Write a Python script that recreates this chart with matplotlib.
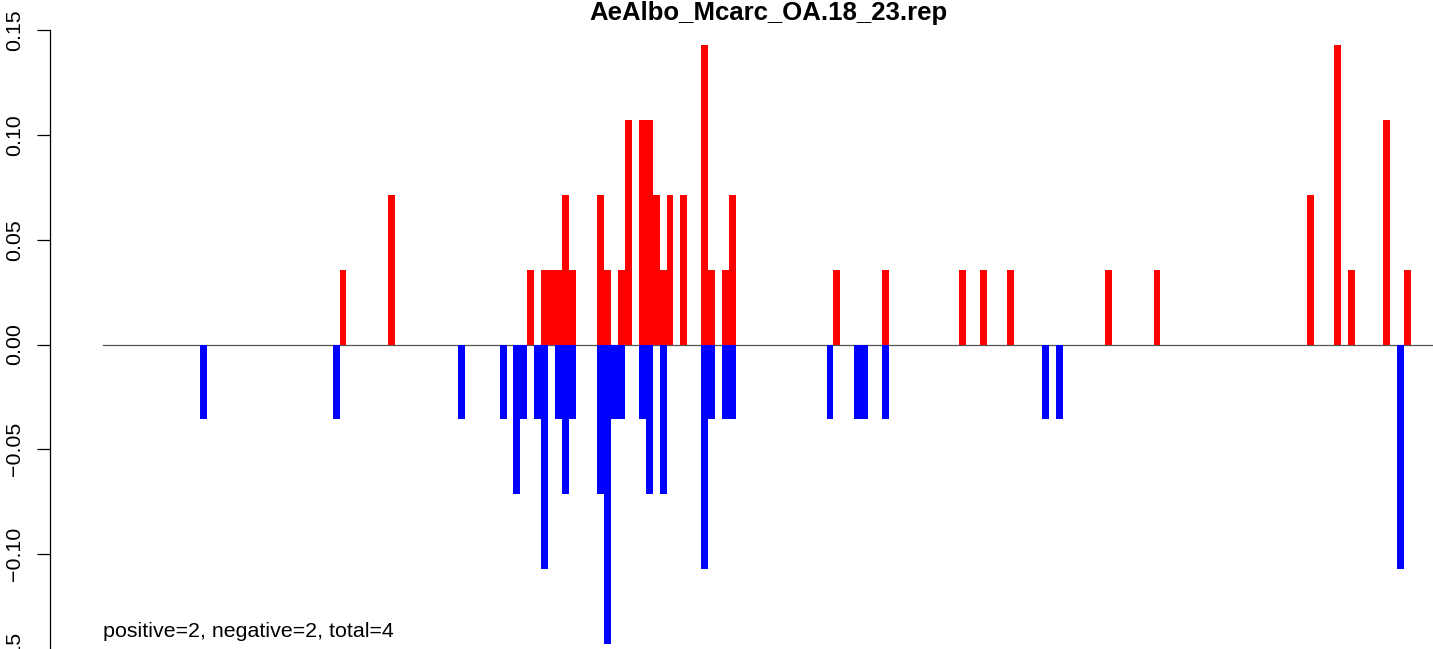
"""Signed frequency bar plot per bin (positive red, negative blue)."""

import matplotlib

matplotlib.use("Agg")
import matplotlib.pyplot as plt  # noqa: E402

plt.rcParams["font.family"] = ["Liberation Sans", "DejaVu Sans"]

TITLE = "AeAlbo_Mcarc_OA.18_23.rep"
NOTE = "positive=2, negative=2, total=4"

# bin index -> frequency (fraction of 28)
pos_bins = [34, 41, 61, 63, 64, 65, 66, 67, 71, 72, 74, 75, 77, 78, 79, 80, 81, 83,
            86, 87, 89, 90, 105, 112, 123, 126, 130, 144, 151, 173, 177, 179, 184, 187]
pos_vals = [0.0357, 0.0714, 0.0357, 0.0357, 0.0357, 0.0357, 0.0714, 0.0357, 0.0714,
            0.0357, 0.0357, 0.1071, 0.1071, 0.1071, 0.0714, 0.0357, 0.0714, 0.0714,
            0.1429, 0.0357, 0.0357, 0.0714, 0.0357, 0.0357, 0.0357, 0.0357, 0.0357,
            0.0357, 0.0357, 0.0714, 0.1429, 0.0357, 0.1071, 0.0357]

neg_bins = [14, 33, 51, 57, 59, 60, 62, 63, 65, 66, 67, 71, 72, 73, 74, 77, 78, 80,
            86, 87, 89, 90, 104, 108, 109, 112, 135, 137, 186]
neg_vals = [-0.0357, -0.0357, -0.0357, -0.0357, -0.0714, -0.0357, -0.0357, -0.1071,
            -0.0357, -0.0714, -0.0357, -0.0714, -0.1429, -0.0357, -0.0357, -0.0357,
            -0.0714, -0.0714, -0.1071, -0.0357, -0.0357, -0.0357, -0.0357, -0.0357,
            -0.0357, -0.0357, -0.0357, -0.0357, -0.1071]

y_ticks = [-0.15, -0.10, -0.05, 0.00, 0.05, 0.10, 0.15]

W, H = 1433, 649
fig = plt.figure(figsize=(W / 100, H / 100), dpi=100)

# layout in pixels: y axis line at x=50, bin 0 starts at x=103, 6.957 px per bin,
# zero at y=344.5 from top, 2094 px per data unit
bin_px = 6.957
ax = fig.add_axes([50 / W, -51 / H, (W - 50) / W, 700 / H])
ax.set_xlim(-(103 - 50) / bin_px, (W - 103) / bin_px)
ax.set_ylim(-(700 - 344.5) / 2094, 344.5 / 2094)

ax.plot([0, (W - 103) / bin_px + 5], [0, 0], color="#555555", lw=0.9, zorder=1)
ax.bar(pos_bins, pos_vals, width=1, align="edge", color="#FF0000", lw=0, zorder=2)
ax.bar(neg_bins, neg_vals, width=1, align="edge", color="#0000FF", lw=0, zorder=2)

for side in ("top", "right", "bottom"):
    ax.spines[side].set_visible(False)
ax.spines["left"].set_bounds(y_ticks[0], y_ticks[-1])
ax.spines["left"].set_linewidth(0.9)
ax.set_xticks([])
ax.set_yticks(y_ticks)
ax.set_yticklabels([f"{t:.2f}".replace("-", "\u2212") for t in y_ticks])
ax.tick_params(axis="y", length=9.4, width=0.9, pad=12.2, labelsize=15.4)
for lab in ax.get_yticklabels():
    lab.set_rotation(90)
    lab.set_rotation_mode("anchor")
    lab.set_horizontalalignment("center")
    lab.set_verticalalignment("baseline")

fig.text(768 / W, 1 - 20 / H, TITLE, ha="center", va="baseline",
         fontsize=18.5, fontweight="bold")
fig.text(103 / W, 1 - 637 / H, NOTE, ha="left", va="baseline", fontsize=15.4)

fig.savefig("out.png", dpi=100)
